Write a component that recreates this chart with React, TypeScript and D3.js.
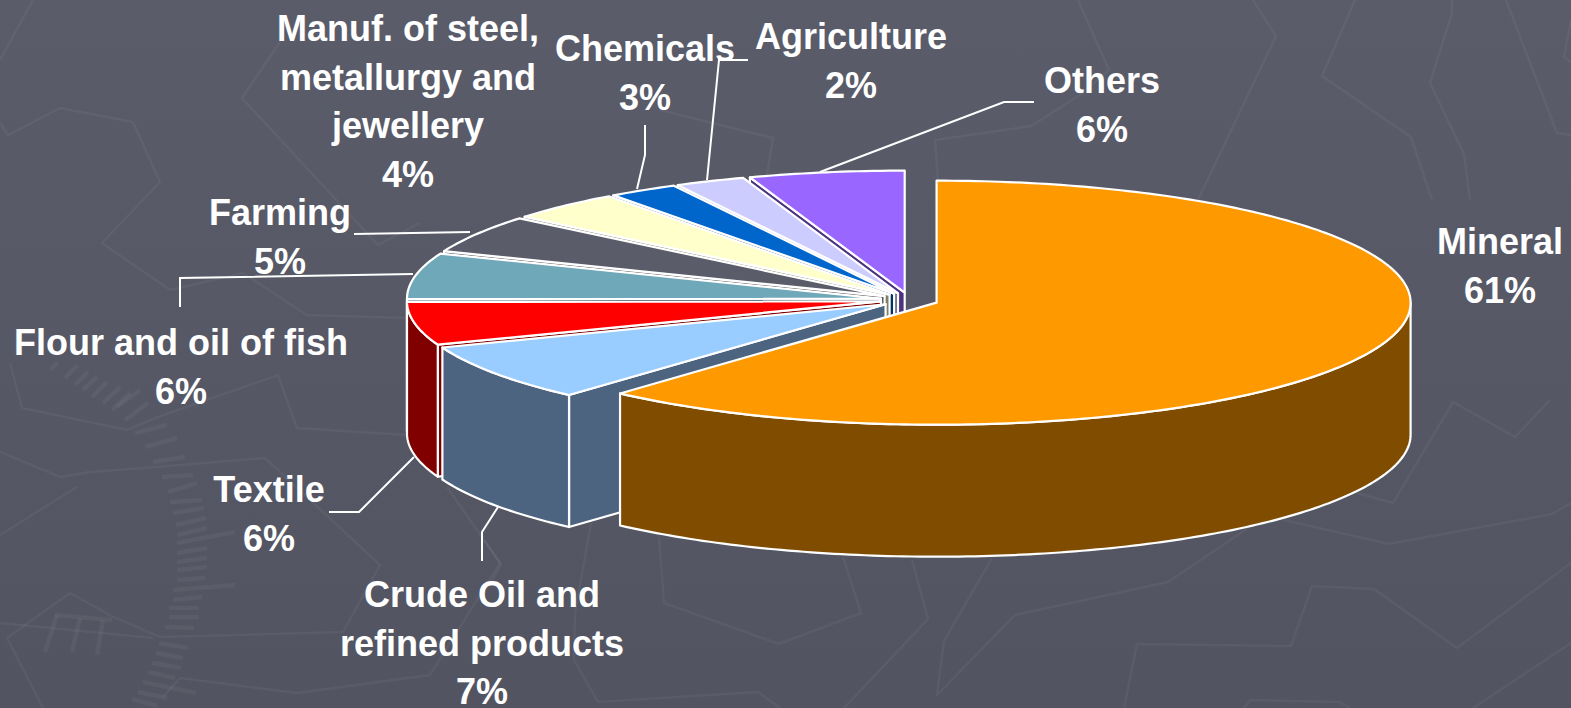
import * as d3 from "d3";

const WIDTH = 1571;
const HEIGHT = 708;

// clockwise from 12 o'clock
const categories = [
  "Mineral",
  "Crude Oil and refined products",
  "Textile",
  "Flour and oil of fish",
  "Farming",
  "Manuf. of steel, metallurgy and jewellery",
  "Chemicals",
  "Agriculture",
  "Others",
];
const shares = [61.7, 7.6, 5.7, 6.1, 5.0, 3.9, 2.4, 2.4, 5.3];
const colors = ["#FF9900", "#99CCFF", "#FF0000", "#6FA8B8", "#5A5C6A", "#FFFFCC", "#0066CC", "#CCCCFF", "#9966FF"];
const wallColors = ["#7F4C00", "#4D6480", "#800000", "#385460", "#45464F", "#808066", "#003366", "#666680", "#4C3380"];

const labelLines = [
  ["Mineral", "61%"],
  ["Crude Oil and", "refined products", "7%"],
  ["Textile", "6%"],
  ["Flour and oil of fish", "6%"],
  ["Farming", "5%"],
  ["Manuf. of steel,", "metallurgy and", "jewellery", "4%"],
  ["Chemicals", "3%"],
  ["Agriculture", "2%"],
  ["Others", "6%"],
];
// x centre and first baseline of each label
const labelPos: [number, number][] = [
  [1500, 254],
  [482, 607],
  [269, 502],
  [181, 355],
  [280, 225],
  [408, 41],
  [645, 61],
  [851, 49],
  [1102, 93],
];
const leaders: [number, number][][] = [
  [],
  [[498, 507], [482, 532], [482, 561]],
  [[414, 457], [359, 512], [329, 512]],
  [[413, 274], [180, 278], [180, 307]],
  [[470, 232], [354, 234]],
  [],
  [[637, 189], [645, 155], [645, 125]],
  [[707, 180], [719, 60], [748, 60]],
  [[820, 172], [1004, 102], [1034, 102]],
];

// faint backdrop pattern
const backdrop: [number, number][][] = [
  [[33, 0], [0, 60]],
  [[0, 123], [8, 135], [60, 108], [133, 122], [160, 182], [102, 243], [170, 290], [243, 273], [307, 315], [407, 318]],
  [[280, 42], [242, 98], [378, 245], [420, 223]],
  [[10, 363], [22, 408], [127, 430], [158, 417], [278, 375], [297, 428], [407, 435]],
  [[0, 452], [60, 477], [90, 472], [157, 467], [265, 458], [380, 565], [343, 632], [160, 637], [113, 617], [70, 593], [7, 638], [43, 708]],
  [[0, 535], [77, 487]],
  [[0, 623], [153, 638]],
  [[163, 697], [180, 678], [297, 693], [430, 675], [500, 563], [447, 487]],
  [[484, 540], [501, 564], [491, 583]],
  [[591, 523], [575, 613], [574, 660], [598, 702], [758, 692], [780, 708]],
  [[659, 537], [664, 603], [779, 644], [861, 613], [843, 557]],
  [[912, 560], [928, 619], [844, 708]],
  [[992, 558], [944, 641], [937, 695], [1015, 615], [1168, 582], [1248, 528]],
  [[1357, 493], [1393, 503], [1453, 402], [1515, 437], [1550, 400]],
  [[1284, 520], [1389, 544], [1552, 514], [1571, 503]],
  [[1124, 708], [1137, 644], [1291, 646], [1312, 586], [1374, 589], [1457, 648], [1571, 563]],
  [[1244, 708], [1250, 700], [1340, 702], [1350, 708]],
  [[1473, 708], [1571, 643]],
  [[1078, 0], [1109, 70], [1080, 95], [1031, 126], [935, 140], [938, 180]],
  [[660, 110], [773, 138], [767, 175]],
  [[1253, 0], [1276, 36], [1198, 200]],
  [[1355, 0], [1322, 76], [1411, 137], [1432, 200]],
  [[1452, 0], [1452, 13], [1430, 83], [1464, 154], [1470, 200]],
  [[1506, 0], [1557, 133], [1571, 135]],
  [[1571, 20], [1564, 57], [1571, 62]],
];
// the thick hatching down the lower left, and the small logo
const hatch: [number, number][][] = [
  [[50, 370], [58, 362]], [[65, 378], [78, 365]], [[75, 385], [88, 372]], [[83, 390], [97, 377]],
  [[92, 397], [107, 382]], [[103, 403], [120, 387]], [[112, 410], [130, 393]],
  [[117, 407], [140, 390]], [[125, 420], [148, 403]], [[135, 433], [167, 425]], [[145, 447], [177, 438]],
  [[153, 462], [185, 457]], [[162, 477], [193, 475]], [[168, 492], [197, 483]], [[170, 502], [202, 500]],
  [[173, 513], [204, 508]], [[176, 525], [206, 518]], [[177, 535], [207, 528]], [[177, 543], [235, 532]],
  [[177, 553], [207, 548]], [[177, 562], [207, 558]], [[177, 570], [207, 567]], [[177, 580], [205, 578]],
  [[173, 590], [235, 585]], [[173, 600], [202, 597]], [[169, 608], [199, 608]], [[169, 617], [199, 617]],
  [[165, 627], [194, 628]], [[159, 643], [188, 648]], [[156, 653], [183, 658]], [[152, 663], [181, 668]],
  [[148, 672], [175, 678]], [[143, 682], [196, 693]], [[138, 692], [167, 698]], [[132, 699], [157, 706]],
  [[55, 615], [112, 620]], [[57, 615], [45, 652]], [[80, 618], [72, 652]], [[103, 620], [97, 655]],
];

const CENTER = { x: 909.5, y: 300 };
const RX = 474;
const RY = 122;
const DEPTH = 132;
const EXPLODE = 29;

const pie = d3.pie<number>().sort(null).startAngle(0).endAngle(2 * Math.PI);
const line = d3.line();

const slices = pie(shares).map((arc, i) => {
  const mid = (arc.startAngle + arc.endAngle) / 2;
  return {
    i,
    start: arc.startAngle,
    end: arc.endAngle,
    cx: CENTER.x + EXPLODE * Math.sin(mid),
    cy: CENTER.y - (EXPLODE * Math.cos(mid) * RY) / RX,
  };
});

type Slice = (typeof slices)[number];

const rim = (s: Slice, a: number, dz = 0): [number, number] => [
  s.cx + RX * Math.sin(a),
  s.cy - RY * Math.cos(a) + dz,
];

const arcPoints = (s: Slice, a0: number, a1: number, dz = 0) => {
  const n = Math.max(2, Math.ceil((a1 - a0) * 60));
  return d3.range(n + 1).map((k) => rim(s, a0 + ((a1 - a0) * k) / n, dz));
};

const LABEL_FONT = "'Liberation Sans', Arial, sans-serif";

const PieSlice = ({ s }: { s: Slice }) => {
  const apex: [number, number] = [s.cx, s.cy];
  const apexLow: [number, number] = [s.cx, s.cy + DEPTH];
  const top = [apex, ...arcPoints(s, s.start, s.end)];
  const a0 = Math.max(s.start, Math.PI / 2);
  const a1 = Math.min(s.end, (3 * Math.PI) / 2);
  const stroke = { stroke: "#fff", strokeWidth: 2.2, strokeLinejoin: "round" as const };
  return (
    <g>
      {s.start > Math.PI && (
        <path
          d={line([apex, rim(s, s.start), rim(s, s.start, DEPTH), apexLow])! + "Z"}
          fill={wallColors[s.i]}
          {...stroke}
        />
      )}
      {a1 > a0 && (
        <path
          d={line([...arcPoints(s, a0, a1), ...arcPoints(s, a0, a1, DEPTH).reverse()])! + "Z"}
          fill={wallColors[s.i]}
          {...stroke}
        />
      )}
      <path d={line(top)! + "Z"} fill={colors[s.i]} {...stroke} />
    </g>
  );
};

export default function App() {
  const drawOrder = [...slices].reverse();
  return (
    <svg
      width={WIDTH}
      height={HEIGHT}
      style={{ position: "absolute", left: 0, top: 0, display: "block" }}
      role="img"
      aria-label={categories.join(", ")}
    >
      <defs>
        <linearGradient id="bg" x1="0" y1="0" x2="0" y2="1">
          <stop offset="0" stopColor="#5A5C6A" />
          <stop offset="1" stopColor="#535461" />
        </linearGradient>
      </defs>
      <rect width={WIDTH} height={HEIGHT} fill="url(#bg)" />
      <g fill="none" stroke="#fff" strokeOpacity={0.045}>
        {backdrop.map((pts, i) => (
          <path key={i} d={line(pts)!} strokeWidth={2.5} />
        ))}
        {hatch.map((pts, i) => (
          <path key={i} d={line(pts)!} strokeWidth={4.5} />
        ))}
      </g>
      {leaders.map((pts, i) =>
        pts.length ? <path key={i} d={line(pts)!} fill="none" stroke="#fff" strokeWidth={2} /> : null
      )}
      {drawOrder.map((s) => (
        <PieSlice key={s.i} s={s} />
      ))}
      {labelLines.map((lines, i) => (
        <text
          key={i}
          textAnchor="middle"
          fontFamily={LABEL_FONT}
          fontWeight="bold"
          fontSize={36}
          fill="#fff"
        >
          {lines.map((t, j) => (
            <tspan key={j} x={labelPos[i][0]} y={labelPos[i][1] + j * 48.7}>
              {t}
            </tspan>
          ))}
        </text>
      ))}
    </svg>
  );
}
